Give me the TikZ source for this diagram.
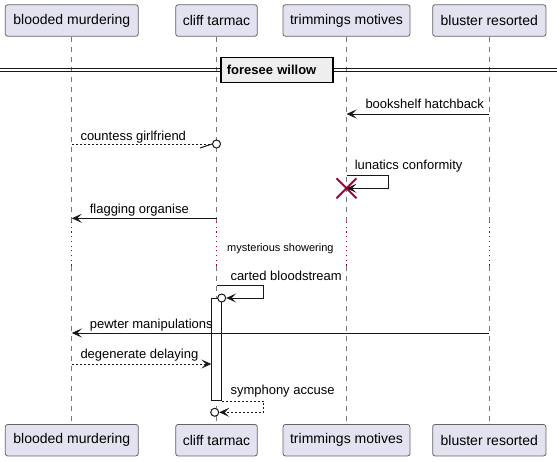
\documentclass[tikz,border=0pt]{standalone}
\usepackage{fontspec}
\setmainfont{Liberation Sans}
\usetikzlibrary{arrows.meta}
\definecolor{partfill}{RGB}{226,226,240}
\definecolor{partline}{RGB}{100,100,100}
\definecolor{lifegray}{RGB}{120,120,120}
\definecolor{crimson}{RGB}{168,0,54}
\definecolor{sepfill}{RGB}{238,238,238}
\definecolor{ink}{RGB}{24,24,24}
\begin{document}
\begin{tikzpicture}[x=1pt, y=-1pt, line width=1pt,
  >={Stealth[length=10pt, width=9pt, inset=4.5pt]},
  font=\fontsize{13}{15}\selectfont,
  part/.style={draw=partline, line width=0.8pt, fill=partfill, rounded corners=2.5pt,
    minimum height=31.5pt, inner sep=0pt, font=\fontsize{14}{16}\selectfont},
  life/.style={lifegray, line width=0.8pt, dash pattern=on 5pt off 5pt},
  pause/.style={crimson, line width=1.1pt, dash pattern=on 1.2pt off 3.5pt},
  msg/.style={ink, ->},
  dashes/.style={ink, dash pattern=on 2pt off 2pt},
  reply/.style={dashes, ->},
  lab/.style={anchor=base west, inner sep=0pt},
  knob/.style={circle, draw=ink, fill=white, line width=1pt, minimum size=8pt, inner sep=0pt}]

  \useasboundingbox (0,0) rectangle (557,461);

  % Uczestnicy i linie zycia
  \foreach \n/\x/\w/\lab in {
    bm/71.8/133/blooded murdering, ct/216.5/81.6/cliff tarmac,
    tm/346.5/127/trimmings motives, br/489.3/113.3/bluster resorted} {
    \node[part, minimum width=\w pt] (\n-top) at (\x, 20.5) {\lab};
    \node[part, minimum width=\w pt] (\n-bot) at (\x, 440.2) {\lab};
    \coordinate (\n-p1) at (\x, 222);
    \coordinate (\n-p2) at (\x, 266);
    \draw[life] (\n-top) -- (\n-p1);
    \draw[pause] (\n-p1) -- (\n-p2);
    \draw[life] (\n-p2) -- (\n-bot);
  }

  % Separator
  \draw[ink] (0, 68.3) -- (557, 68.3);
  \draw[ink] (0, 71) -- (557, 71);
  \node[draw=black, fill=sepfill, line width=1.5pt, anchor=north west,
    text width=100pt, inner xsep=6pt, inner ysep=0pt, minimum height=25pt,
    font=\fontsize{13}{15}\selectfont\bfseries] (sep) at (220, 56.7) {foresee willow};

  % bookshelf hatchback
  \coordinate (m1a) at (489.3, 114);
  \coordinate (m1b) at (346.5, 114);
  \draw[msg] (m1a) -- (m1b);
  \node[lab] (l1) at (365, 108.3) {bookshelf hatchback};

  % countess girlfriend
  \coordinate (m2a) at (71.8, 144);
  \node[knob] (k2) at (216.5, 144) {};
  \draw[dashes] (m2a) -- (k2);
  \draw[ink] (k2.west) -- ++(-12, 4);
  \node[lab] (l2) at (80, 140) {countess girlfriend};

  % lunatics conformity (destroy)
  \coordinate (m3a) at (346.5, 175.7);
  \coordinate (m3b) at (346.5, 188.3);
  \draw[crimson, line width=2pt] (m3b) ++(-10, -10) -- ++(20, 20)
    (m3b) ++(-10, 10) -- ++(20, -20);
  \draw[msg] (m3a) -- ++(42.2, 0) |- (m3b);
  \node[lab] (l3) at (354.3, 169.3) {lunatics conformity};

  % flagging organise
  \coordinate (m4a) at (216.5, 218.3);
  \coordinate (m4b) at (71.8, 218.3);
  \draw[msg] (m4a) -- (m4b);
  \node[lab] (l4) at (89.3, 213.3) {flagging organise};

  % opoznienie
  \node[lab, font=\fontsize{11}{13}\selectfont] (delay) at (226.7, 251.7) {mysterious showering};

  % carted bloodstream + aktywacja
  \node[draw=ink, fill=white, minimum width=10.4pt, minimum height=102pt,
    inner sep=0pt, anchor=north] (act) at (216.5, 298) {};
  \coordinate (m5a) at (216.5, 285.7);
  \node[knob] (k5) at (221.7, 298) {};
  \draw[msg] (m5a) -- ++(46.8, 0) |- (k5);
  \node[lab] (l5) at (230, 280.7) {carted bloodstream};

  % pewter manipulations
  \coordinate (m6a) at (489.3, 333);
  \coordinate (m6b) at (71.8, 333);
  \draw[msg] (m6a) -- (m6b);
  \node[lab] (l6) at (89.3, 328.3) {pewter manipulations};

  % degenerate delaying
  \coordinate (m7a) at (71.8, 364);
  \coordinate (m7b) at (211.3, 364);
  \draw[reply] (m7a) -- (m7b);
  \node[lab] (l7) at (80, 358.3) {degenerate delaying};

  % symphony accuse
  \node[knob] (k8) at (214.7, 412.3) {};
  \draw[reply] (act.south east) -- ++(41.6, 0) |- (k8);
  \node[lab] (l8) at (230, 394) {symphony accuse};
\end{tikzpicture}
\end{document}
